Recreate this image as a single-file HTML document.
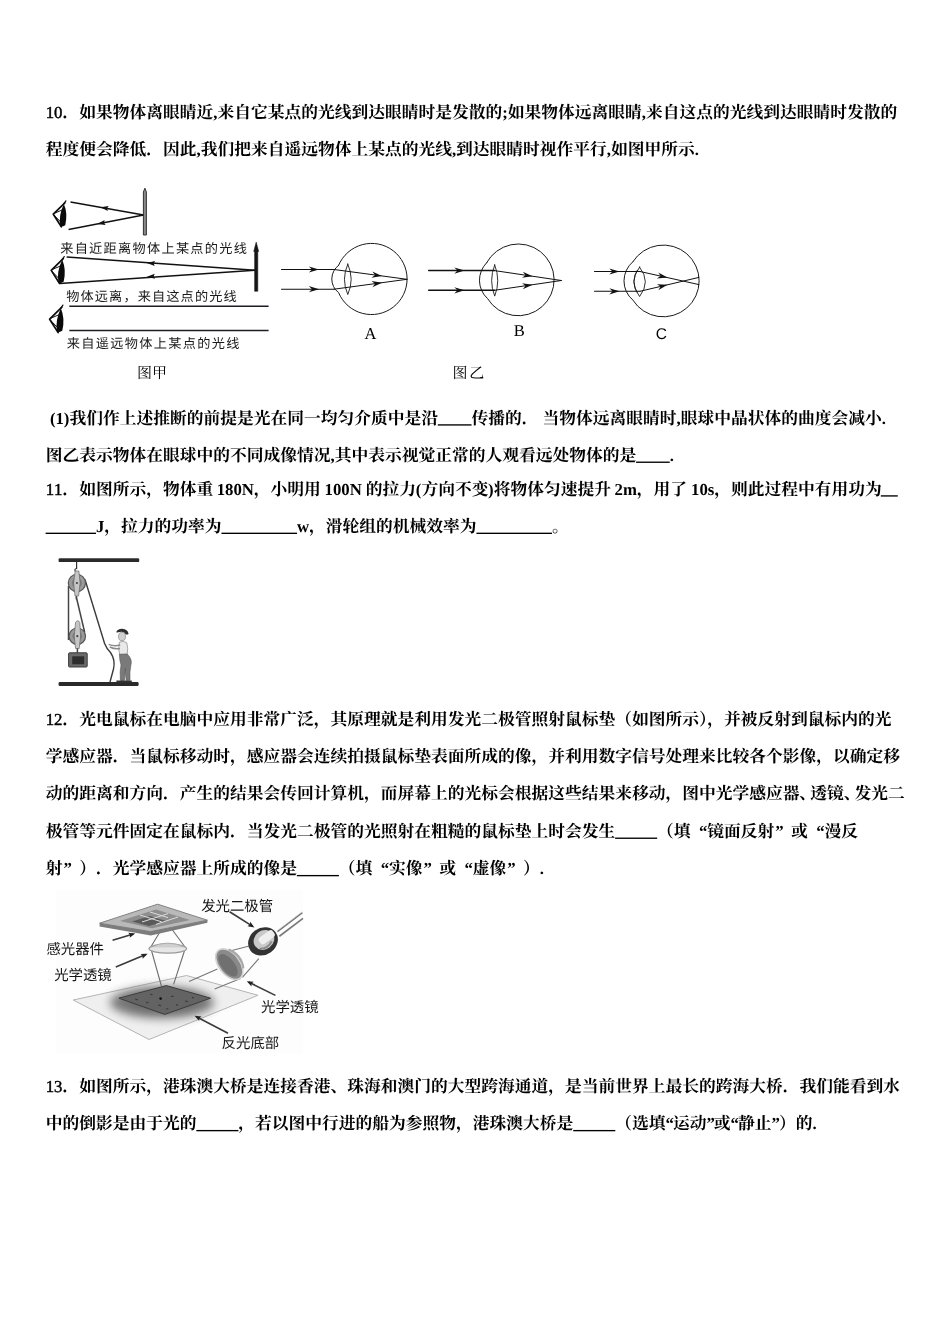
<!DOCTYPE html>
<html lang="zh-CN">
<head>
<meta charset="utf-8">
<title>物理试卷 第10-13题</title>
<style>
html,body{margin:0;padding:0;background:#fff}
body{position:relative;width:950px;height:1344px;overflow:hidden;font-family:"Liberation Serif",serif;color:#000}
svg#page{position:absolute;left:0;top:0;display:block;will-change:transform}
svg#page text{font-family:"Liberation Serif","Noto Serif CJK SC",serif;font-size:16.75px;fill:#000;stroke:none;text-rendering:geometricPrecision}
#bodytext rect{stroke:none}
svg#page text.lb{font-weight:bold}
svg#page text.ln{font-weight:normal;stroke:#000;stroke-width:.45px}
/* selectable text layer: same words, same place */
p.t{position:absolute;left:45.7px;margin:0;white-space:nowrap;font:bold 16.75px/18px "Liberation Serif",serif;color:transparent;width:860px;overflow:hidden}
p.t.f{width:auto;font-weight:normal;line-height:1}
</style>
</head>
<body>
<svg id="page" aria-hidden="true" width="950" height="1344" viewBox="0 0 950 1344">
<defs>
<filter id="soft" x="-5%" y="-5%" width="110%" height="110%"><feGaussianBlur stdDeviation=".45"/></filter>
<filter id="soft2" x="-10%" y="-10%" width="120%" height="120%"><feGaussianBlur stdDeviation=".7"/></filter>
<filter id="blur6" x="-30%" y="-30%" width="160%" height="160%"><feGaussianBlur stdDeviation="5"/></filter>
</defs>
<g id="bodytext" fill="#000" stroke="#000" stroke-width="0.9">
<g transform="translate(0,118)">
<text class="lb" x="62.45">．如果物体离眼睛近</text>
<text class="lb" x="217.39">来自它某点的光线到达眼睛时是发散的</text>
<text class="lb" x="507.72">如果物体远离眼睛</text>
<text class="lb" x="645.9">来自这点的光线到达眼睛时发散的</text>
<text class="ln" x="45.7" textLength="16.75" lengthAdjust="spacing">10</text>
<text class="lb" x="213.2">,</text>
<text class="lb" x="502.14">;</text>
<text class="lb" x="641.72">,</text>
</g>
<g transform="translate(0,155.4)">
<text class="lb" x="45.7">程度便会降低．因此</text>
<text class="lb" x="200.64">我们把来自遥远物体上某点的光线</text>
<text class="lb" x="456.07">到达眼睛时视作平行</text>
<text class="lb" x="611.01">如图甲所示</text>
<text class="lb" x="196.45">,</text>
<text class="lb" x="451.89">,</text>
<text class="lb" x="606.83">,</text>
<text class="lb" x="694.76">.</text>
</g>
<g transform="translate(0,423.5)">
<text class="lb" x="69.42">我们作上述推断的前提是光在同一均匀介质中是沿</text>
<text class="lb" x="471.42">传播的．</text>
<text class="lb" x="542.61">当物体远离眼睛时</text>
<text class="lb" x="680.79">眼球中晶状体的曲度会减小</text>
<text class="lb" x="49.89" textLength="19.53" lengthAdjust="spacing">(1)</text>
<rect x="437.82" y=".75" width="33.7" height="1.35"/>
<text class="lb" x="676.61">,</text>
<text class="lb" x="881.79">.</text>
</g>
<g transform="translate(0,460.8)">
<text class="lb" x="45.7">图乙表示物体在眼球中的不同成像情况</text>
<text class="lb" x="334.64">其中表示视觉正常的人观看远处物体的是</text>
<text class="lb" x="330.45">,</text>
<rect x="636.04" y=".75" width="33.7" height="1.35"/>
<text class="lb" x="669.64">.</text>
</g>
<g transform="translate(0,494.5)">
<text class="lb" x="62.38">．如图所示，物体重</text>
<text class="lb" x="253.7">，小明用</text>
<text class="lb" x="365.8">的拉力</text>
<text class="lb" x="421.39">方向不变</text>
<text class="lb" x="493.65">将物体匀速提升</text>
<text class="lb" x="636.79">，用了</text>
<text class="lb" x="714.15">，则此过程中有用功为</text>
<text class="ln" x="45.7" textLength="16.75" lengthAdjust="spacing">11</text>
<text class="lb" x="216.66" textLength="37.22" lengthAdjust="spacing">180N</text>
<text class="lb" x="324.59" textLength="37.22" lengthAdjust="spacing">100N</text>
<text class="lb" x="415.83">(</text>
<text class="lb" x="488.09">)</text>
<text class="lb" x="614.57" textLength="22.33" lengthAdjust="spacing">2m</text>
<text class="lb" x="691.01" textLength="23.27" lengthAdjust="spacing">10s</text>
<rect x="880.82" y=".75" width="16.95" height="1.35"/>
</g>
<g transform="translate(0,531.9)">
<text class="lb" x="104.32">，拉力的功率为</text>
<text class="lb" x="309.05">，滑轮组的机械效率为</text>
<text class="lb" x="551.92">。</text>
<rect x="45.6" y=".75" width="50.45" height="1.35"/>
<text class="lb" x="95.95">J</text>
<rect x="221.47" y=".75" width="75.58" height="1.35"/>
<text class="lb" x="296.95">w</text>
<rect x="476.45" y=".75" width="75.58" height="1.35"/>
</g>
<g transform="translate(0,724.6)">
<text class="lb" x="62.45">．光电鼠标在电脑中应用非常广泛，其原理就是利用发光二极管照射鼠标垫（如图所示），并被反射到鼠标内的光</text>
<text class="ln" x="45.7" textLength="16.75" lengthAdjust="spacing">12</text>
</g>
<g transform="translate(0,762)">
<text class="lb" x="45.7">学感应器．当鼠标移动时，感应器会连续拍摄鼠标垫表面所成的像，并利用数字信号处理来比较各个影像，以确定移</text>
</g>
<g transform="translate(0,799.4)">
<text class="lb" x="45.7">动的距离和方向．产生的结果会传回计算机，而屏幕上的光标会根据这些结果来移动，图中光学感应器</text>
<text class="lb" x="799.26">、</text>
<text class="lb" x="810.2">透镜</text>
<text class="lb" x="843.7">、</text>
<text class="lb" x="854.46">发光二</text>
</g>
<g transform="translate(0,836.8)">
<text class="lb" x="45.7">极管等元件固定在鼠标内．当发光二极管的光照射在粗糙的鼠标垫上时会发生</text>
<text class="lb" x="657.07 673.82 699.07 707.32 724.07 740.82 757.57 775.32 791.07 816.32 824.57 841.32">（填“镜面反射”或“漫反</text>
<rect x="615.1" y=".75" width="42.08" height="1.35"/>
</g>
<g transform="translate(0,874.2)">
<text class="lb" x="45.7 63.45 79.2 95.95 112.7 129.45 146.2 162.95 179.7 196.45 213.2 229.95 246.7 263.45 280.2">射”）．光学感应器上所成的像是</text>
<text class="lb" x="338.82 355.57 380.82 389.07 405.82 423.57 439.32 464.57 472.82 489.57 507.32 523.07">（填“实像”或“虚像”）</text>
<rect x="296.85" y=".75" width="42.08" height="1.35"/>
<text class="lb" x="539.83">.</text>
</g>
<g transform="translate(0,1091.8)">
<text class="lb" x="62.45">．如图所示，港珠澳大桥是连接香港、珠海和澳门的大型跨海通道，是当前世界上最长的跨海大桥．我们能看到水</text>
<text class="ln" x="45.7" textLength="16.75" lengthAdjust="spacing">13</text>
</g>
<g transform="translate(0,1129.2)">
<text class="lb" x="45.7">中的倒影是由于光的</text>
<text class="lb" x="238.32">，若以图中行进的船为参照物，港珠澳大桥是</text>
<text class="lb" x="615.2">（选填</text>
<text class="lb" x="672.9">运动</text>
<text class="lb" x="713.86">或</text>
<text class="lb" x="738.06">静止</text>
<text class="lb" x="779.01">）的</text>
<rect x="196.35" y=".75" width="42.08" height="1.35"/>
<rect x="573.23" y=".75" width="42.08" height="1.35"/>
<text class="lb" x="665.45">“</text>
<text class="lb" x="706.4">”</text>
<text class="lb" x="730.61">“</text>
<text class="lb" x="771.56">”</text>
<text class="lb" x="812.52">.</text>
</g>
</g>
<g id="fig-jia">
<path d="M64.87 202.82 L53.29 214.2 L61.33 226.75" fill="none" stroke="#0c0c0c" stroke-width="1.7" stroke-linejoin="round" stroke-linecap="round"/><path d="M63.88 203.9 Q68 213.22 65.26 225.18 Q61.73 227.34 60.35 226.17 Q58.2 215.67 63.88 203.9z" fill="#0a0a0a"/><path d="M53.68 214.79 L61.33 222.63 M54.08 213.42 L61.92 210.08" fill="none" stroke="#111" stroke-width="1"/><path d="M63.69 203.9 L65.85 200.86" stroke="#111" stroke-width="1.2" stroke-linecap="round"/>
<line x1="70.5" y1="202" x2="143.6" y2="215.1" stroke="#111" stroke-width="1.5"/>
<path d="M100.4 207.15L107.83 211.02L107.09 208.35L108.72 206.1z" fill="#111" stroke="none"/>
<line x1="68.6" y1="229.4" x2="143.6" y2="215.1" stroke="#111" stroke-width="1.5"/>
<path d="M97.3 223.95L105.63 224.91L103.98 222.68L104.69 220z" fill="#111" stroke="none"/>
<path d="M143.4 235 V192 L144.9 188.2 L146.4 192 V235z" fill="#8a8a8a" stroke="#222" stroke-width=".9" stroke-linejoin="round"/>
<text x="60.2" y="252.9" textLength="186.72" lengthAdjust="spacing" style="font-family:'Liberation Sans','Noto Sans CJK SC',sans-serif;font-size:13.2px;fill:#1a1a1a">来自近距离物体上某点的光线</text>
<path d="M63.23 258.58 L51.21 270.4 L59.57 283.45" fill="none" stroke="#0c0c0c" stroke-width="1.7" stroke-linejoin="round" stroke-linecap="round"/><path d="M62.22 259.7 Q66.5 269.38 63.64 281.82 Q59.97 284.06 58.55 282.83 Q56.3 271.93 62.22 259.7z" fill="#0a0a0a"/><path d="M51.62 271.01 L59.57 279.17 M52.02 269.58 L60.18 266.12" fill="none" stroke="#111" stroke-width="1"/><path d="M62.01 259.7 L64.25 256.54" stroke="#111" stroke-width="1.2" stroke-linecap="round"/>
<line x1="66.7" y1="257" x2="255" y2="270.2" stroke="#111" stroke-width="1.5"/>
<path d="M146.9 262.92L154.71 265.97L153.68 263.4L155.06 260.99z" fill="#111" stroke="none"/>
<line x1="59.8" y1="283.5" x2="255" y2="270.2" stroke="#111" stroke-width="1.5"/>
<path d="M146.9 276.78L155.05 278.73L153.68 276.32L154.71 273.74z" fill="#111" stroke="none"/>
<path d="M254.6 291.3 V251.5 L253.7 251.5 L256.2 242 L258.7 251.5 L257.8 251.5 V291.3z" fill="#161616" stroke="#161616" stroke-width=".5" stroke-linejoin="round"/>
<text x="66.2" y="300.5" textLength="170.5" lengthAdjust="spacing" style="font-family:'Liberation Sans','Noto Sans CJK SC',sans-serif;font-size:13.2px;fill:#1a1a1a">物体远离，来自这点的光线</text>
<path d="M61.87 307.15 L49.62 319.2 L58.13 332.49" fill="none" stroke="#0c0c0c" stroke-width="1.7" stroke-linejoin="round" stroke-linecap="round"/><path d="M60.83 308.3 Q65.19 318.16 62.28 330.83 Q58.55 333.12 57.09 331.87 Q54.81 320.76 60.83 308.3z" fill="#0a0a0a"/><path d="M50.03 319.82 L58.13 328.13 M50.45 318.37 L58.75 314.84" fill="none" stroke="#111" stroke-width="1"/><path d="M60.62 308.3 L62.91 305.08" stroke="#111" stroke-width="1.2" stroke-linecap="round"/>
<line x1="69.3" y1="306.2" x2="268.6" y2="306.2" stroke="#1c1c22" stroke-width="1.5"/>
<line x1="69.3" y1="330.4" x2="268.6" y2="330.4" stroke="#1c1c22" stroke-width="1.5"/>
<text x="66.7" y="348.1" textLength="172.7" lengthAdjust="spacing" style="font-family:'Liberation Sans','Noto Sans CJK SC',sans-serif;font-size:13.2px;fill:#1a1a1a">来自遥远物体上某点的光线</text>
<text x="137" y="377.7" style="font-size:15px;fill:#000">图甲</text>
</g>
<g id="fig-yi" stroke-linecap="round">
<path d="M338.6 265.3 A35.6 35.6 0 1 1 338.6 292.6 A16.95 16.95 0 0 1 338.6 265.3" fill="none" stroke="#1a1a1a" stroke-width="1"/>
<path d="M347.8 264.1 Q354.6 279.3 347.8 294.5 Q341 279.3 347.8 264.1z" fill="none" stroke="#1a1a1a" stroke-width=".9"/>
<line x1="281.5" y1="269.5" x2="334" y2="269.5" stroke="#111" stroke-width="1.1"/>
<line x1="334" y1="269.5" x2="407" y2="279.3" stroke="#111" stroke-width="1"/>
<path d="M319 269.5L308.8 266.4L312 269.5L308.8 272.6z" fill="#111" stroke="none"/>
<path d="M382 275.94L372.3 271.51L375.06 275.01L371.48 277.66z" fill="#111" stroke="none"/>
<line x1="281.5" y1="289.2" x2="334" y2="289.2" stroke="#111" stroke-width="1.1"/>
<line x1="334" y1="289.2" x2="407" y2="279.3" stroke="#111" stroke-width="1"/>
<path d="M319 289.2L308.8 286.1L312 289.2L308.8 292.3z" fill="#111" stroke="none"/>
<path d="M382 282.69L371.48 280.99L375.06 283.63L372.31 287.13z" fill="#111" stroke="none"/>
<text x="370.4" y="339" text-anchor="middle" style="font-size:16.5px">A</text>
<path d="M486.6 262.8 A35.9 35.9 0 1 1 487.6 298.6 A24.67 24.67 0 0 1 486.6 262.8" fill="none" stroke="#1a1a1a" stroke-width="1"/>
<path d="M494.7 264.9 Q500.9 280.5 494.7 296.1 Q488.5 280.5 494.7 264.9z" fill="none" stroke="#1a1a1a" stroke-width=".9"/>
<line x1="428.7" y1="270.6" x2="494.5" y2="270.6" stroke="#111" stroke-width="1.5"/>
<line x1="494.5" y1="270.6" x2="561.3" y2="280.5" stroke="#111" stroke-width="1"/>
<path d="M464.5 270.6L454.3 267.5L457.5 270.6L454.3 273.7z" fill="#111" stroke="none"/>
<path d="M532.5 276.23L522.86 271.67L525.58 275.21L521.96 277.8z" fill="#111" stroke="none"/>
<line x1="428.7" y1="290.3" x2="494.5" y2="290.3" stroke="#111" stroke-width="1.5"/>
<line x1="494.5" y1="290.3" x2="561.3" y2="280.5" stroke="#111" stroke-width="1"/>
<path d="M464.5 290.3L454.3 287.2L457.5 290.3L454.3 293.4z" fill="#111" stroke="none"/>
<path d="M532.5 284.73L521.96 283.14L525.57 285.74L522.86 289.27z" fill="#111" stroke="none"/>
<text x="519.2" y="336.3" text-anchor="middle" style="font-size:16.5px">B</text>
<path d="M632.9 261.7 A35.9 35.9 0 1 1 632.9 300.1 A24.98 24.98 0 0 1 632.9 261.7" fill="none" stroke="#1a1a1a" stroke-width="1"/>
<path d="M637.2 270.3 Q630.5 281.5 637.2 292.4" fill="none" stroke="#1a1a1a" stroke-width=".9"/>
<path d="M639.6 267.1 Q651.2 281.8 639.6 296.5 Q628 281.8 639.6 267.1z" fill="none" stroke="#1a1a1a" stroke-width=".9"/>
<line x1="594.5" y1="271.5" x2="640" y2="271.5" stroke="#111" stroke-width="1.1"/>
<line x1="640" y1="271.5" x2="698.9" y2="284.6" stroke="#111" stroke-width="1"/>
<path d="M619.5 271.5L609.3 268.4L612.5 271.5L609.3 274.6z" fill="#111" stroke="none"/>
<path d="M667.5 277.62L658.22 272.38L660.67 276.1L656.87 278.43z" fill="#111" stroke="none"/>
<line x1="594.5" y1="291.3" x2="640" y2="291.3" stroke="#111" stroke-width="1.1"/>
<line x1="640" y1="291.3" x2="698.9" y2="277.4" stroke="#111" stroke-width="1"/>
<path d="M619.5 291.3L609.3 288.2L612.5 291.3L609.3 294.4z" fill="#111" stroke="none"/>
<path d="M667.5 284.81L656.86 284.14L660.69 286.42L658.28 290.17z" fill="#111" stroke="none"/>
<text x="661.3" y="338.6" text-anchor="middle" style="font-size:15.5px;font-family:'Liberation Sans',sans-serif">C</text>
<text x="452.6" y="377.7" textLength="31.6" lengthAdjust="spacing" style="font-size:15px;fill:#000">图乙</text>
</g>
<g id="fig-pulley" filter="url(#soft)">
<rect x="58.6" y="558.2" width="80.6" height="3.9" rx="1.2" fill="#2b2b2b"/>
<rect x="58.6" y="682.0" width="80" height="3.9" rx="1.2" fill="#2b2b2b"/>
<path d="M68.5 586 V640" stroke="#444" stroke-width="1.5" fill="none"/>
<path d="M76.3 597 L84.6 632" stroke="#444" stroke-width="1.5" fill="none"/>
<path d="M85.0 579.5 L104.6 643.5 Q106.5 648.5 110.5 652.5 Q115.6 660 113.5 669 L110.0 682" stroke="#3a3a3a" stroke-width="1.4" fill="none"/>
<path d="M76.6 562 V568.5 q-2.4 .6 -1.4 2.8" stroke="#333" stroke-width="1.2" fill="none"/>
<circle cx="76.9" cy="583" r="8.6" fill="#9a9a9a" stroke="#555" stroke-width="1.2"/>
<circle cx="76.9" cy="583" r="5" fill="#7d7d7d"/>
<path d="M75.2 571 L78.9 571 L80.1 583 L78.6 596 L75.0 596 L73.6 583z" fill="#c6c6c6" stroke="#666" stroke-width=".7"/>
<circle cx="76.9" cy="583" r="1.1" fill="#444"/>
<path d="M76.4 596 v3.5" stroke="#444" stroke-width="1.4"/>
<circle cx="77.3" cy="636.2" r="8.2" fill="#9a9a9a" stroke="#555" stroke-width="1.2"/>
<circle cx="77.3" cy="636.2" r="4.8" fill="#7d7d7d"/>
<path d="M75.6 622.5 q2.2 -3.6 4.2 0 L80.6 636 L79.2 648.5 L75.6 648.5 L74.2 636z" fill="#c6c6c6" stroke="#666" stroke-width=".7"/>
<circle cx="77.3" cy="636.2" r="1.1" fill="#444"/>
<path d="M77.4 648.5 V653" stroke="#444" stroke-width="1.5"/>
<rect x="68.6" y="652.8" width="18.6" height="14.2" rx="1" fill="#6a6a6a" stroke="#3c3c3c" stroke-width="1"/>
<rect x="72.2" y="656.3" width="12" height="8" fill="#2e2e2e"/>
<path d="M116.2 632.3 q1 -3.6 6 -3.6 q5.6 .2 6.4 5.2 q-1 1 -2.8 .6 q-1.4 -3.4 -6.2 -2.4 q-2 .5 -3.4 .2z" fill="#2d2d2d"/>
<ellipse cx="122.0" cy="636.6" rx="3.5" ry="4.2" fill="#cfcfcf" stroke="#777" stroke-width=".6"/>
<path d="M119.4 642.2 q4.2 -2 7.4 .6 q1.6 5.2 .4 11.6 l-7.6 .2 q-1.8 -6.4 -.2 -12.4z" fill="#e9e9e9" stroke="#888" stroke-width=".7"/>
<path d="M120.2 645 q-6 1.6 -11.6 -.6 M120 648.6 q-5.6 .8 -10.2 -1.6" stroke="#8a8a8a" stroke-width="1.5" fill="none"/>
<path d="M119.4 654.2 l7.8 -.2 q5.6 5.4 3.6 11.6 q-1.4 6.6 -.8 14.6 l-3.8 .2 q-1 -6.4 -.8 -12.2 l-1 12.2 l-4 0 q-.8 -9 .6 -15.4 q-1.6 -5.6 -1.6 -10.8z" fill="#7a7a7a" stroke="#555" stroke-width=".6"/>
<path d="M116.4 681.4 h15.4" stroke="#333" stroke-width="1.8"/>
</g>
<g id="fig-mouse">
<rect x="56" y="890" width="247" height="163" fill="#fdfdfd"/>
<g filter="url(#soft2)">
<path d="M73.2 1000 L186.5 975.5 L258 995.3 L149 1039.5z" fill="#efefef" stroke="#b4b4b4" stroke-width="1"/>
<ellipse cx="162" cy="1002.5" rx="52" ry="16" fill="#6a6a6a" filter="url(#blur6)" opacity=".9"/>
<ellipse cx="163" cy="1001" rx="34" ry="10" fill="#5a5a5a" filter="url(#blur6)" opacity=".45"/>
<path d="M118.9 998.2 L166.3 985.6 L210.5 998.2 L164.7 1014.4z" fill="#646464" stroke="#3c3c3c" stroke-width="1"/>
<path d="M135 999 l3 .8 M150 994 l2.6 1 M171 996.6 l3 -.6 M185 1001 l3 .6 M158 1005 l3 .6 M176 1004.6 l2 .8 M146 1002.4 l2.4 .2 M166 1009 l2.4 -.4 M192 997.4 l2 .4" stroke="#3e3e3e" stroke-width="1.2"/>
<circle cx="160.6" cy="998.6" r="1.3" fill="#111"/>
<path d="M166.2 921.5 L150.8 947 M166.2 921.5 L185 947 M151.6 951 L161.4 986 M184.4 951 L173.6 984.4" stroke="#6e6e6e" stroke-width="1.1" fill="none"/>
<path d="M99.6 923.2 L157.6 904.2 L207.4 920.2 L150.5 931.6z" fill="#b9b9b9" stroke="#808080" stroke-width="1"/>
<path d="M99.6 923.2 L150.5 931.6 L207.4 920.2 L207.4 922.8 L150.8 935.4 L99.6 926.4z" fill="#7c7c7c"/>
<path d="M120 921 L156 909.5 L190 920 L152 928.2z" fill="#8e8e8e"/>
<path d="M132 921.6 L150 916 L166 921 L149 926z" fill="#5a5a5a"/>
<path d="M150 912 l18 5.6 M140 915 l22 7 M168 913.6 l-26 8.4 M178 917 l-22 7.4" stroke="#dcdcdc" stroke-width="1"/>
<ellipse cx="167.8" cy="948.6" rx="18.8" ry="4.6" fill="#e6e6e6" stroke="#9a9a9a" stroke-width="1.2"/>
<path d="M150 947.4 q17.8 -8.6 35.6 0" fill="#cfcfcf" stroke="#a0a0a0" stroke-width=".8"/>
<path d="M251 945.5 L222.5 953 M258.8 958.6 L242.4 977.4 M217.4 969 L189 981.6 M240.6 978.6 L214.6 989" stroke="#777" stroke-width="1.1" fill="none"/>
<g transform="translate(229.3,964.2) rotate(-38)"><ellipse rx="10.4" ry="17.6" fill="#8a8a8a" stroke="#d2d2d2" stroke-width="1.6"/><ellipse cx="-1.6" rx="6.4" ry="13.4" fill="#707070"/><path d="M8.6 -12 q7 12 0 24" stroke="#a8a8a8" stroke-width="2" fill="none"/></g>
<path d="M277.4 931.6 L302.4 912.6 M279.4 936.2 L303 918.4" stroke="#7a7a7a" stroke-width="1.7" fill="none"/>
<path d="M277.4 930.4 L302.4 911.4" stroke="#e0e0e0" stroke-width=".7" fill="none"/>
<g transform="translate(263,941.4) rotate(-36)"><ellipse rx="15.6" ry="13.4" fill="#333"/><ellipse cx="1.6" cy="-.6" rx="10.8" ry="9.4" fill="#c9c9c9"/><rect x="-3" y="-5.2" width="17" height="8" rx="3" fill="#efefef"/><path d="M-7 4 q7 5 14 1" stroke="#8c8c8c" stroke-width="2" fill="none"/></g>
<line x1="229.6" y1="911.8" x2="252.71" y2="926.34" stroke="#3a3a3a" stroke-width="1.6"/><path d="M254.4 927.4L250.28 921.74L249.91 924.58L247.51 926.14z" fill="#222" stroke="none"/>
<line x1="112.6" y1="940.2" x2="133.28" y2="933.98" stroke="#3a3a3a" stroke-width="1.6"/><path d="M135.2 933.4L128.23 932.78L130.12 934.93L129.72 937.76z" fill="#222" stroke="none"/>
<line x1="115.8" y1="967" x2="145.75" y2="954.57" stroke="#3a3a3a" stroke-width="1.6"/><path d="M147.6 953.8L140.6 953.89L142.7 955.83L142.59 958.69z" fill="#222" stroke="none"/>
<line x1="275.4" y1="995.4" x2="248.59" y2="982.09" stroke="#3a3a3a" stroke-width="1.6"/><path d="M246.8 981.2L251.47 986.42L251.55 983.56L253.78 981.76z" fill="#222" stroke="none"/>
<line x1="228" y1="1033.2" x2="196.37" y2="1016.72" stroke="#3a3a3a" stroke-width="1.6"/><path d="M194.6 1015.8L199.16 1021.11L199.3 1018.25L201.57 1016.5z" fill="#222" stroke="none"/>
</g>
<text x="201.2" y="910.6" style="font-family:'Liberation Sans','Noto Sans CJK SC',sans-serif;font-size:14.4px;fill:#151515">发光二极管</text>
<text x="46.4" y="953.6" style="font-family:'Liberation Sans','Noto Sans CJK SC',sans-serif;font-size:14.4px;fill:#151515">感光器件</text>
<text x="54.2" y="980.4" style="font-family:'Liberation Sans','Noto Sans CJK SC',sans-serif;font-size:14.4px;fill:#151515">光学透镜</text>
<text x="261" y="1011.6" style="font-family:'Liberation Sans','Noto Sans CJK SC',sans-serif;font-size:14.4px;fill:#151515">光学透镜</text>
<text x="221.6" y="1048" style="font-family:'Liberation Sans','Noto Sans CJK SC',sans-serif;font-size:14.4px;fill:#151515">反光底部</text>
</g>
</svg>
<p class="t" style="top:103.4px">10．如果物体离眼睛近,来自它某点的光线到达眼睛时是发散的;如果物体远离眼睛,来自这点的光线到达眼睛时发散的</p>
<p class="t" style="top:140.8px">程度便会降低．因此,我们把来自遥远物体上某点的光线,到达眼睛时视作平行,如图甲所示.</p>
<p class="t" style="top:408.9px"> (1)我们作上述推断的前提是光在同一均匀介质中是沿____传播的． 当物体远离眼睛时,眼球中晶状体的曲度会减小.</p>
<p class="t" style="top:446.2px">图乙表示物体在眼球中的不同成像情况,其中表示视觉正常的人观看远处物体的是____.</p>
<p class="t" style="top:479.9px">11．如图所示，物体重 180N，小明用 100N 的拉力(方向不变)将物体匀速提升 2m，用了 10s，则此过程中有用功为__</p>
<p class="t" style="top:517.3px">______J，拉力的功率为_________w，滑轮组的机械效率为_________。</p>
<p class="t" style="top:710px">12．光电鼠标在电脑中应用非常广泛，其原理就是利用发光二极管照射鼠标垫（如图所示），并被反射到鼠标内的光</p>
<p class="t" style="top:747.4px">学感应器．当鼠标移动时，感应器会连续拍摄鼠标垫表面所成的像，并利用数字信号处理来比较各个影像，以确定移</p>
<p class="t" style="top:784.8px">动的距离和方向．产生的结果会传回计算机，而屏幕上的光标会根据这些结果来移动，图中光学感应器、透镜、发光二</p>
<p class="t" style="top:822.2px">极管等元件固定在鼠标内．当发光二极管的光照射在粗糙的鼠标垫上时会发生_____（填“镜面反射”或“漫反</p>
<p class="t" style="top:859.6px">射”）．光学感应器上所成的像是_____（填“实像”或“虚像”）.</p>
<p class="t" style="top:1077.2px">13．如图所示，港珠澳大桥是连接香港、珠海和澳门的大型跨海通道，是当前世界上最长的跨海大桥．我们能看到水</p>
<p class="t" style="top:1114.6px">中的倒影是由于光的_____，若以图中行进的船为参照物，港珠澳大桥是_____（选填“运动”或“静止”）的.</p>
<p class="t f" style="left:60px;top:240px;font-size:13.6px">来自近距离物体上某点的光线</p>
<p class="t f" style="left:66px;top:288px;font-size:13.6px">物体远离，来自这点的光线</p>
<p class="t f" style="left:66.5px;top:335.5px;font-size:13.6px">来自遥远物体上某点的光线</p>
<p class="t f" style="left:137px;top:364px;font-size:15px">图甲</p>
<p class="t f" style="left:452.6px;top:364px;font-size:15px">图乙</p>
<p class="t f" style="left:201.2px;top:898px;font-size:14.4px">发光二极管</p>
<p class="t f" style="left:46.4px;top:941px;font-size:14.4px">感光器件</p>
<p class="t f" style="left:54.2px;top:968px;font-size:14.4px">光学透镜</p>
<p class="t f" style="left:261px;top:999px;font-size:14.4px">光学透镜</p>
<p class="t f" style="left:221.6px;top:1035.5px;font-size:14.4px">反光底部</p>
</body>
</html>
